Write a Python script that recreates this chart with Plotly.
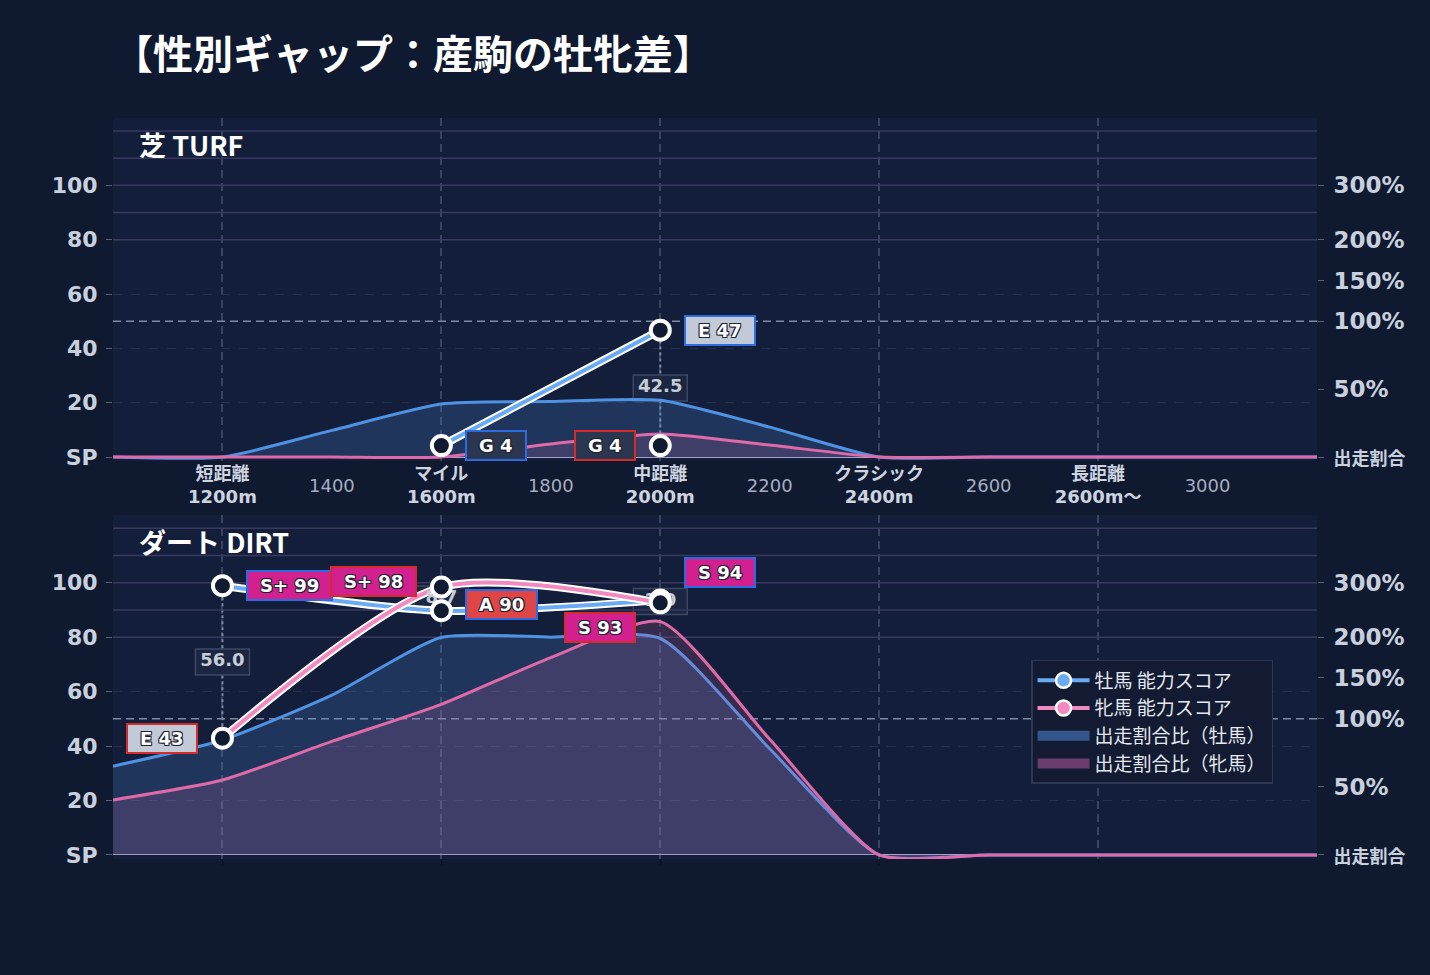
import plotly.graph_objects as go

# distance axis: race categories and the distances in between
CATS = [1200, 1600, 2000, 2400, 2800]
CAT_NAMES = ["短距離", "マイル", "中距離", "クラシック", "長距離"]
CAT_DIST = ["1200m", "1600m", "2000m", "2400m", "2600m～"]
MID_TICKS = [1400, 1800, 2200, 2600, 3000]

# left axis = ability score, right axis = entry share (same scale, 50 = 100%)
SCORE_TICKS = [0, 20, 40, 60, 80, 100]
SCORE_TEXT = ["SP", "20", "40", "60", "80", "100"]
SHARE_TICKS = [0, 25, 50, 65, 80, 100]
SHARE_TEXT = ["出走割合", "50%", "100%", "150%", "200%", "300%"]

# entry share curves, read on the score scale
SHARE_X = [1000, 1200, 1400, 1600, 1800, 2000, 2200, 2400, 2600, 2800, 3000, 3200]
turf_male_share = [0, 0, 9.8, 19.5, 20.4, 20.9, 11, 0, 0, 0, 0, 0]
turf_female_share = [0, 0, 0, 0, 4.8, 8.5, 4.4, 0, 0, 0, 0, 0]
dirt_male_share = [32.6, 42.2, 58.7, 79.9, 80, 79.5, 39, 0, 0, 0, 0, 0]
dirt_female_share = [20.2, 27.5, 41.7, 55.3, 72.5, 85.7, 42.5, 0, 0, 0, 0, 0]

# ability scores with grade letters
turf_male_x = [1600, 2000]
turf_male_score = [4.2, 46.7]
turf_male_grade = ["G", "E"]
turf_female_x = [2000]
turf_female_score = [4.2]
turf_female_grade = ["G"]
dirt_male_x = [1200, 1600, 2000]
dirt_male_score = [98.9, 89.7, 93.6]
dirt_male_grade = ["S+", "A", "S"]
dirt_female_x = [1200, 1600, 2000]
dirt_female_score = [42.9, 98.4, 92.6]
dirt_female_grade = ["E", "S+", "S"]

BG = "#0f192f"
PANEL = "#131f3a"
MALE = "#6aabf4"
FEMALE = "#f28ac2"
MALE_AREA = "#4f92e3"
FEMALE_AREA = "#df6aaa"
GRADE_BG = {"S+": "#d3208f", "S": "#d3208f", "A": "#e04545", "E": "#c2c9d7", "G": "#2b3651"}
SEX_BORDER = {"m": "#2f6be0", "f": "#d62b2b"}
# vertical nudges for labels that would collide
LABEL_NUDGE = {("dirt", "m", 1600): 6, ("dirt", "f", 1600): 6,
               ("dirt", "m", 2000): 28, ("dirt", "f", 2000): -25}
FONT = "DejaVu Sans, Noto Sans CJK JP"
CJK = "Noto Sans CJK JP"
X_RANGE = [1000, 3200]
Y_RANGE = [-1.5, 124.8]
OUTLINE = "1px 1px 0 #1b2232, -1px -1px 0 #1b2232, 1px -1px 0 #1b2232, -1px 1px 0 #1b2232"

panels = [
    dict(key="turf", title="芝 TURF", xa="x", ya="y", yr="y2",
         share=(turf_male_share, turf_female_share),
         male=(turf_male_x, turf_male_score, turf_male_grade),
         female=(turf_female_x, turf_female_score, turf_female_grade)),
    dict(key="dirt", title="ダート DIRT", xa="x2", ya="y3", yr="y4",
         share=(dirt_male_share, dirt_female_share),
         male=(dirt_male_x, dirt_male_score, dirt_male_grade),
         female=(dirt_female_x, dirt_female_score, dirt_female_grade)),
]

fig = go.Figure()
shapes = []
annotations = []


def share_area(y, color, fill, xa, ya):
    return go.Scatter(
        x=SHARE_X, y=y, mode="lines", xaxis=xa, yaxis=ya,
        line=dict(color=color, width=3, shape="spline", smoothing=0.6),
        fill="tozeroy", fillcolor=fill, showlegend=False, hoverinfo="skip",
    )


def score_line(x, y, color, xa, ya):
    for col, w in [("#ffffff", 8), (color, 4)]:
        fig.add_trace(go.Scatter(
            x=x, y=y, mode="lines", xaxis=xa, yaxis=ya,
            line=dict(color=col, width=w, shape="spline", smoothing=0.75),
            showlegend=False, hoverinfo="skip",
        ))


def hline(p, lvl, line):
    shapes.append(dict(type="line", xref=p["xa"], yref=p["ya"], x0=X_RANGE[0], x1=X_RANGE[1],
                       y0=lvl, y1=lvl, line=line, layer="between"))


def axis_carrier(xa, ya):
    # empty trace so that an overlaying axis gets drawn
    fig.add_trace(go.Scatter(x=[None], y=[None], xaxis=xa, yaxis=ya, showlegend=False,
                             hoverinfo="skip"))


# areas first
for p in panels:
    m_share, f_share = p["share"]
    fig.add_trace(share_area(m_share, MALE_AREA, "rgba(79,146,227,0.2)", p["xa"], p["ya"]))
    fig.add_trace(share_area(f_share, FEMALE_AREA, "rgba(223,106,170,0.17)", p["xa"], p["ya"]))

# score lines
for p in panels:
    score_line(p["male"][0], p["male"][1], MALE, p["xa"], p["ya"])
    score_line(p["female"][0], p["female"][1], FEMALE, p["xa"], p["ya"])

# gap between male and female at shared distances
for p in panels:
    mx, ms, _ = p["male"]
    fx, fs, _ = p["female"]
    gx, gy, gt = [], [], []
    for x, m in zip(mx, ms):
        if x not in fx:
            continue
        f = fs[fx.index(x)]
        mid = (m + f) / 2
        gx.append(x)
        gy.append(mid)
        gt.append(f"{abs(m - f):.1f}")
        shapes.append(dict(type="line", xref=p["xa"], yref=p["ya"], x0=x, x1=x, y0=f, y1=m,
                           line=dict(color="#7c889f", width=2, dash="dot"), layer="between"))
        shapes.append(dict(type="rect", xref=p["xa"], yref=p["ya"], xsizemode="pixel",
                           ysizemode="pixel", xanchor=x, yanchor=mid, x0=-27, x1=27,
                           y0=-13, y1=13, fillcolor="#1b2742",
                           line=dict(color="#3c4862", width=1.5), layer="between"))
    fig.add_trace(go.Scatter(
        x=gx, y=gy, text=gt, mode="text", xaxis=p["xa"], yaxis=p["ya"],
        textfont=dict(family=FONT, size=18, color="#c5cdd9", weight="bold"),
        showlegend=False, hoverinfo="skip",
    ))

# markers and grade labels
for p in panels:
    for sex, (xs, ss, gs) in [("m", p["male"]), ("f", p["female"])]:
        fig.add_trace(go.Scatter(
            x=xs, y=ss, mode="markers", xaxis=p["xa"], yaxis=p["ya"],
            marker=dict(size=19, color="#101a30", line=dict(color="#ffffff", width=4)),
            showlegend=False, hoverinfo="skip",
        ))
        for x, s, g in zip(xs, ss, gs):
            annotations.append(dict(
                x=x, y=s, xref=p["xa"], yref=p["ya"], showarrow=False,
                text=f"<b>\u2002{g} {round(s)}\u2002</b>",
                xanchor="left" if sex == "m" else "right",
                xshift=24 if sex == "m" else -24,
                yshift=LABEL_NUDGE.get((p["key"], sex, x), 0),
                bgcolor=GRADE_BG[g], bordercolor=SEX_BORDER[sex], borderwidth=2, borderpad=3,
                font=dict(family=FONT, size=18, color="#ffffff", shadow=OUTLINE),
            ))

# legend entries
fig.add_trace(go.Scatter(x=[None], y=[None], mode="lines+markers", name="牡馬 能力スコア",
                         line=dict(color=MALE, width=4),
                         marker=dict(size=15, color=MALE, line=dict(color="#ffffff", width=2.5))))
fig.add_trace(go.Scatter(x=[None], y=[None], mode="lines+markers", name="牝馬 能力スコア",
                         line=dict(color=FEMALE, width=4),
                         marker=dict(size=15, color=FEMALE, line=dict(color="#ffffff", width=2.5))))
fig.add_trace(go.Scatter(x=[None], y=[None], mode="lines", name="出走割合比（牡馬）",
                         line=dict(color="#34558c", width=10)))
fig.add_trace(go.Scatter(x=[None], y=[None], mode="lines", name="出走割合比（牝馬）",
                         line=dict(color="#6b3c6e", width=10)))

axis_carrier("x3", "y")
for p in panels:
    axis_carrier(p["xa"], p["yr"])

# reference lines and panel titles
for p in panels:
    for lvl in [80, 90, 100, 110, 120]:
        hline(p, lvl, dict(color="#393861", width=1.5))
    hline(p, 50, dict(color="#7f899f", width=1.5, dash="8px,5px"))
    annotations.append(dict(x=0.02, y=115, xref=f"{p['xa']} domain", yref=p["ya"],
                            text=f"<b>{p['title']}</b>", showarrow=False, xanchor="left",
                            font=dict(family=CJK, size=27, color="#ffffff")))

cat_text = [f"<b>{n}<br>{d}</b>" for n, d in zip(CAT_NAMES, CAT_DIST)]
share_text = [f"<span style='font-size:18px'>{t}</span>" if t == "出走割合" else t
              for t in SHARE_TEXT]

x_common = dict(range=X_RANGE, tickvals=CATS, showgrid=True, gridcolor="#38455f",
                griddash="8px,5px", gridwidth=1.5, zeroline=False, showline=False)
y_left = dict(range=Y_RANGE, tickvals=SCORE_TICKS, ticktext=SCORE_TEXT, ticks="outside",
              ticklen=6, tickcolor="#56617c", gridcolor="#243050", griddash="dash",
              zeroline=True, zerolinecolor="#a3a2cc", zerolinewidth=1, ticklabelstandoff=4,
              tickfont=dict(family=FONT, size=22, color="#c8d0de", weight="bold"))
y_right = dict(range=Y_RANGE, tickvals=SHARE_TICKS, ticktext=share_text, ticks="outside",
               ticklen=6, tickcolor="#56617c", showgrid=False, zeroline=False, side="right",
               ticklabelstandoff=5,
               tickfont=dict(family=FONT, size=23, color="#c8d0de", weight="bold"))

fig.update_layout(
    width=1430, height=975,
    paper_bgcolor=BG, plot_bgcolor=PANEL,
    margin=dict(l=113, r=113, t=118, b=116),
    font=dict(family=FONT, color="#c8d0de"),
    title=dict(text="<b>【性別ギャップ：産駒の牡牝差】</b>", x=0, xref="paper", xanchor="left",
               y=0.944, yref="container", yanchor="middle",
               font=dict(family=CJK, size=40, color="#ffffff")),
    xaxis=dict(**x_common, anchor="y", ticktext=cat_text,
               tickfont=dict(family=FONT, size=18, color="#cdd4e0")),
    xaxis3=dict(range=X_RANGE, tickvals=MID_TICKS, overlaying="x", anchor="y",
                showgrid=False, zeroline=False, ticklabelstandoff=12,
                tickfont=dict(family=FONT, size=18, color="#a5aebf")),
    xaxis2=dict(**x_common, anchor="y3", showticklabels=False, matches="x",
                ticks="outside", ticklen=5, tickcolor="#0a0f1c"),
    yaxis=dict(**y_left, domain=[0.537, 1], anchor="x"),
    yaxis2=dict(**y_right, overlaying="y", anchor="x"),
    yaxis3=dict(**y_left, domain=[0, 0.464], anchor="x2"),
    yaxis4=dict(**y_right, overlaying="y3", anchor="x2"),
    shapes=shapes,
    annotations=annotations,
    legend=dict(x=0.7625, y=0.2686, xanchor="left", yanchor="top", bgcolor="#121b31",
                bordercolor="#2b3753", borderwidth=1.5, itemwidth=52,
                font=dict(family=CJK, size=19, color="#e4e8f0")),
    showlegend=True,
)

fig.write_html(
    "out.html",
    config={"displayModeBar": False},
    post_script="document.body.style.margin='0';document.body.style.background='%s';" % BG,
)
